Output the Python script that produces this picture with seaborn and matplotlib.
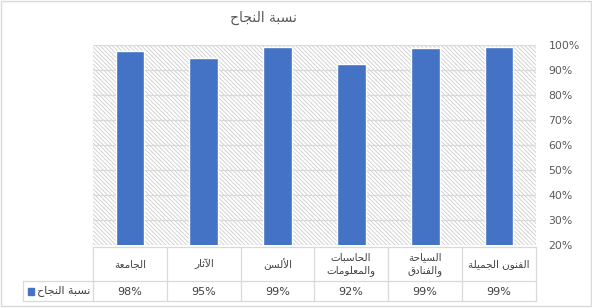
import matplotlib
matplotlib.use("Agg")
import matplotlib.pyplot as plt
import seaborn as sns
import pandas as pd
from matplotlib.patches import Rectangle
from matplotlib.lines import Line2D

# ---------------- data ----------------
categories = ["الجامعة", "الآثار", "الألسن", "الحاسبات\nوالمعلومات", "السياحة\nوالفنادق", "الفنون الجميلة"]
values = [0.976, 0.947, 0.992, 0.924, 0.988, 0.994]
table_labels = ["98%", "95%", "99%", "92%", "99%", "99%"]
series_name = "نسبة النجاح"
title_text = "نسبة النجاح"
y_ticks = [0.2, 0.3, 0.4, 0.5, 0.6, 0.7, 0.8, 0.9, 1.0]

# ---------------- Arabic shaping (presentation forms) ----------------
FORMS = {  # iso, fin, ini, med
    '\u0621': ('\uFE80', None, None, None),
    '\u0622': ('\uFE81', '\uFE82', None, None),
    '\u0623': ('\uFE83', '\uFE84', None, None),
    '\u0624': ('\uFE85', '\uFE86', None, None),
    '\u0625': ('\uFE87', '\uFE88', None, None),
    '\u0626': ('\uFE89', '\uFE8A', '\uFE8B', '\uFE8C'),
    '\u0627': ('\uFE8D', '\uFE8E', None, None),
    '\u0628': ('\uFE8F', '\uFE90', '\uFE91', '\uFE92'),
    '\u0629': ('\uFE93', '\uFE94', None, None),
    '\u062A': ('\uFE95', '\uFE96', '\uFE97', '\uFE98'),
    '\u062B': ('\uFE99', '\uFE9A', '\uFE9B', '\uFE9C'),
    '\u062C': ('\uFE9D', '\uFE9E', '\uFE9F', '\uFEA0'),
    '\u062D': ('\uFEA1', '\uFEA2', '\uFEA3', '\uFEA4'),
    '\u062E': ('\uFEA5', '\uFEA6', '\uFEA7', '\uFEA8'),
    '\u062F': ('\uFEA9', '\uFEAA', None, None),
    '\u0630': ('\uFEAB', '\uFEAC', None, None),
    '\u0631': ('\uFEAD', '\uFEAE', None, None),
    '\u0632': ('\uFEAF', '\uFEB0', None, None),
    '\u0633': ('\uFEB1', '\uFEB2', '\uFEB3', '\uFEB4'),
    '\u0634': ('\uFEB5', '\uFEB6', '\uFEB7', '\uFEB8'),
    '\u0635': ('\uFEB9', '\uFEBA', '\uFEBB', '\uFEBC'),
    '\u0636': ('\uFEBD', '\uFEBE', '\uFEBF', '\uFEC0'),
    '\u0637': ('\uFEC1', '\uFEC2', '\uFEC3', '\uFEC4'),
    '\u0638': ('\uFEC5', '\uFEC6', '\uFEC7', '\uFEC8'),
    '\u0639': ('\uFEC9', '\uFECA', '\uFECB', '\uFECC'),
    '\u063A': ('\uFECD', '\uFECE', '\uFECF', '\uFED0'),
    '\u0641': ('\uFED1', '\uFED2', '\uFED3', '\uFED4'),
    '\u0642': ('\uFED5', '\uFED6', '\uFED7', '\uFED8'),
    '\u0643': ('\uFED9', '\uFEDA', '\uFEDB', '\uFEDC'),
    '\u0644': ('\uFEDD', '\uFEDE', '\uFEDF', '\uFEE0'),
    '\u0645': ('\uFEE1', '\uFEE2', '\uFEE3', '\uFEE4'),
    '\u0646': ('\uFEE5', '\uFEE6', '\uFEE7', '\uFEE8'),
    '\u0647': ('\uFEE9', '\uFEEA', '\uFEEB', '\uFEEC'),
    '\u0648': ('\uFEED', '\uFEEE', None, None),
    '\u0649': ('\uFEEF', '\uFEF0', None, None),
    '\u064A': ('\uFEF1', '\uFEF2', '\uFEF3', '\uFEF4'),
}
LAMALEF = {'\u0622': ('\uFEF5', '\uFEF6'), '\u0623': ('\uFEF7', '\uFEF8'),
           '\u0625': ('\uFEF9', '\uFEFA'), '\u0627': ('\uFEFB', '\uFEFC')}


def dual(c):
    return c in FORMS and FORMS[c][2] is not None


def joins(c):
    return c in FORMS and c != '\u0621'


def shape_line(s):
    out = []
    i = 0
    n = len(s)
    while i < n:
        c = s[i]
        if c not in FORMS:
            out.append(c)
            i += 1
            continue
        prev = s[i - 1] if i > 0 else ''
        prev_conn = dual(prev)
        if c == '\u0644' and i + 1 < n and s[i + 1] in LAMALEF:
            iso, fin = LAMALEF[s[i + 1]]
            out.append(fin if prev_conn else iso)
            i += 2
            continue
        nxt = s[i + 1] if i + 1 < n else ''
        next_conn = dual(c) and joins(nxt)
        iso, fin, ini, med = FORMS[c]
        if prev_conn and next_conn:
            g = med
        elif prev_conn:
            g = fin
        elif next_conn:
            g = ini
        else:
            g = iso
        out.append(g)
        i += 1
    return ''.join(reversed(out))


def ar(s):
    return '\n'.join(shape_line(l) for l in s.split('\n'))


# ---------------- style ----------------
sns.set_theme(style="white")
plt.rcParams['font.family'] = ['DejaVu Sans']
plt.rcParams['hatch.color'] = '#cccccc'
plt.rcParams['hatch.linewidth'] = 0.6

BLUE = '#4472C4'
GRAY_TXT = '#595959'
GRID = '#d9d9d9'

fig = plt.figure(figsize=(5.92, 3.08), dpi=100)
W, H = 592, 308


def fx(px):
    return px / W


def fy(py):
    return 1 - py / H


ax = fig.add_axes([fx(93), fy(245), fx(536) - fx(93), fy(45) - fy(245)])

df = pd.DataFrame({"cat": [ar(c) for c in categories], "val": values})

# hatched background
ax.set_facecolor('white')
ax.add_patch(Rectangle((0, 0), 1, 1, transform=ax.transAxes, facecolor='white',
                       edgecolor='#cccccc', hatch='\\' * 8, lw=0, zorder=0))

sns.barplot(data=df, x="cat", y="val", color=BLUE, width=0.39, saturation=1,
            ax=ax, zorder=3)
ax.set_xlim(-0.5, len(categories) - 0.5)
ax.set_ylim(0.2, 1.0)
ax.set_yticks(y_ticks)
ax.set_yticklabels([f"{int(round(t * 100))}%" for t in y_ticks])
ax.yaxis.tick_right()
ax.tick_params(axis='y', length=0, pad=9, labelsize=7.8, labelcolor=GRAY_TXT)
ax.set_xticks([])
ax.set_xlabel('')
ax.set_ylabel('')
for sp in ax.spines.values():
    sp.set_visible(False)
for t in y_ticks:
    ax.axhline(t, color=GRID, lw=0.9, zorder=1)

# title
fig.text(fx(263), fy(18), ar(title_text), ha='center', va='center',
         fontsize=10, color=GRAY_TXT)

# ---------------- data table ----------------
col_edges = [93, 167, 241, 314, 388, 462, 536]
row_top, row_mid, row_bot = 247, 281, 301
lc = '#d9d9d9'


def hline(x0, x1, y):
    fig.add_artist(Line2D([fx(x0), fx(x1)], [fy(y), fy(y)], color=lc, lw=0.9))


def vline(x, y0, y1):
    fig.add_artist(Line2D([fx(x), fx(x)], [fy(y0), fy(y1)], color=lc, lw=0.9))


hline(93, 536, row_top)
hline(23, 536, row_mid)
hline(23, 536, row_bot)
for x in col_edges:
    vline(x, row_top, row_bot)
vline(23, row_mid, row_bot)

for i, (c, lab) in enumerate(zip(categories, table_labels)):
    xc = (col_edges[i] + col_edges[i + 1]) / 2
    fig.text(fx(xc), fy((row_top + row_mid) / 2), ar(c), ha='center', va='center',
             fontsize=7.5, color='#404040', linespacing=1.3, multialignment='center')
    fig.text(fx(xc), fy((row_mid + row_bot) / 2 + 1), lab, ha='center', va='center',
             fontsize=8, color='#404040')

# legend key in the table
fig.add_artist(Rectangle((fx(28), fy(295)), fx(6), fy(288) - fy(295), color=BLUE))
fig.text(fx(90), fy((row_mid + row_bot) / 2), ar(series_name), ha='right', va='center',
         fontsize=8, color='#404040')

# outer chart border
fig.add_artist(Rectangle((fx(0.5), fy(306)), fx(590.5), fy(0.5) - fy(306), fill=False,
                         edgecolor='#d9d9d9', lw=1))

fig.savefig("out.png", dpi=100)
